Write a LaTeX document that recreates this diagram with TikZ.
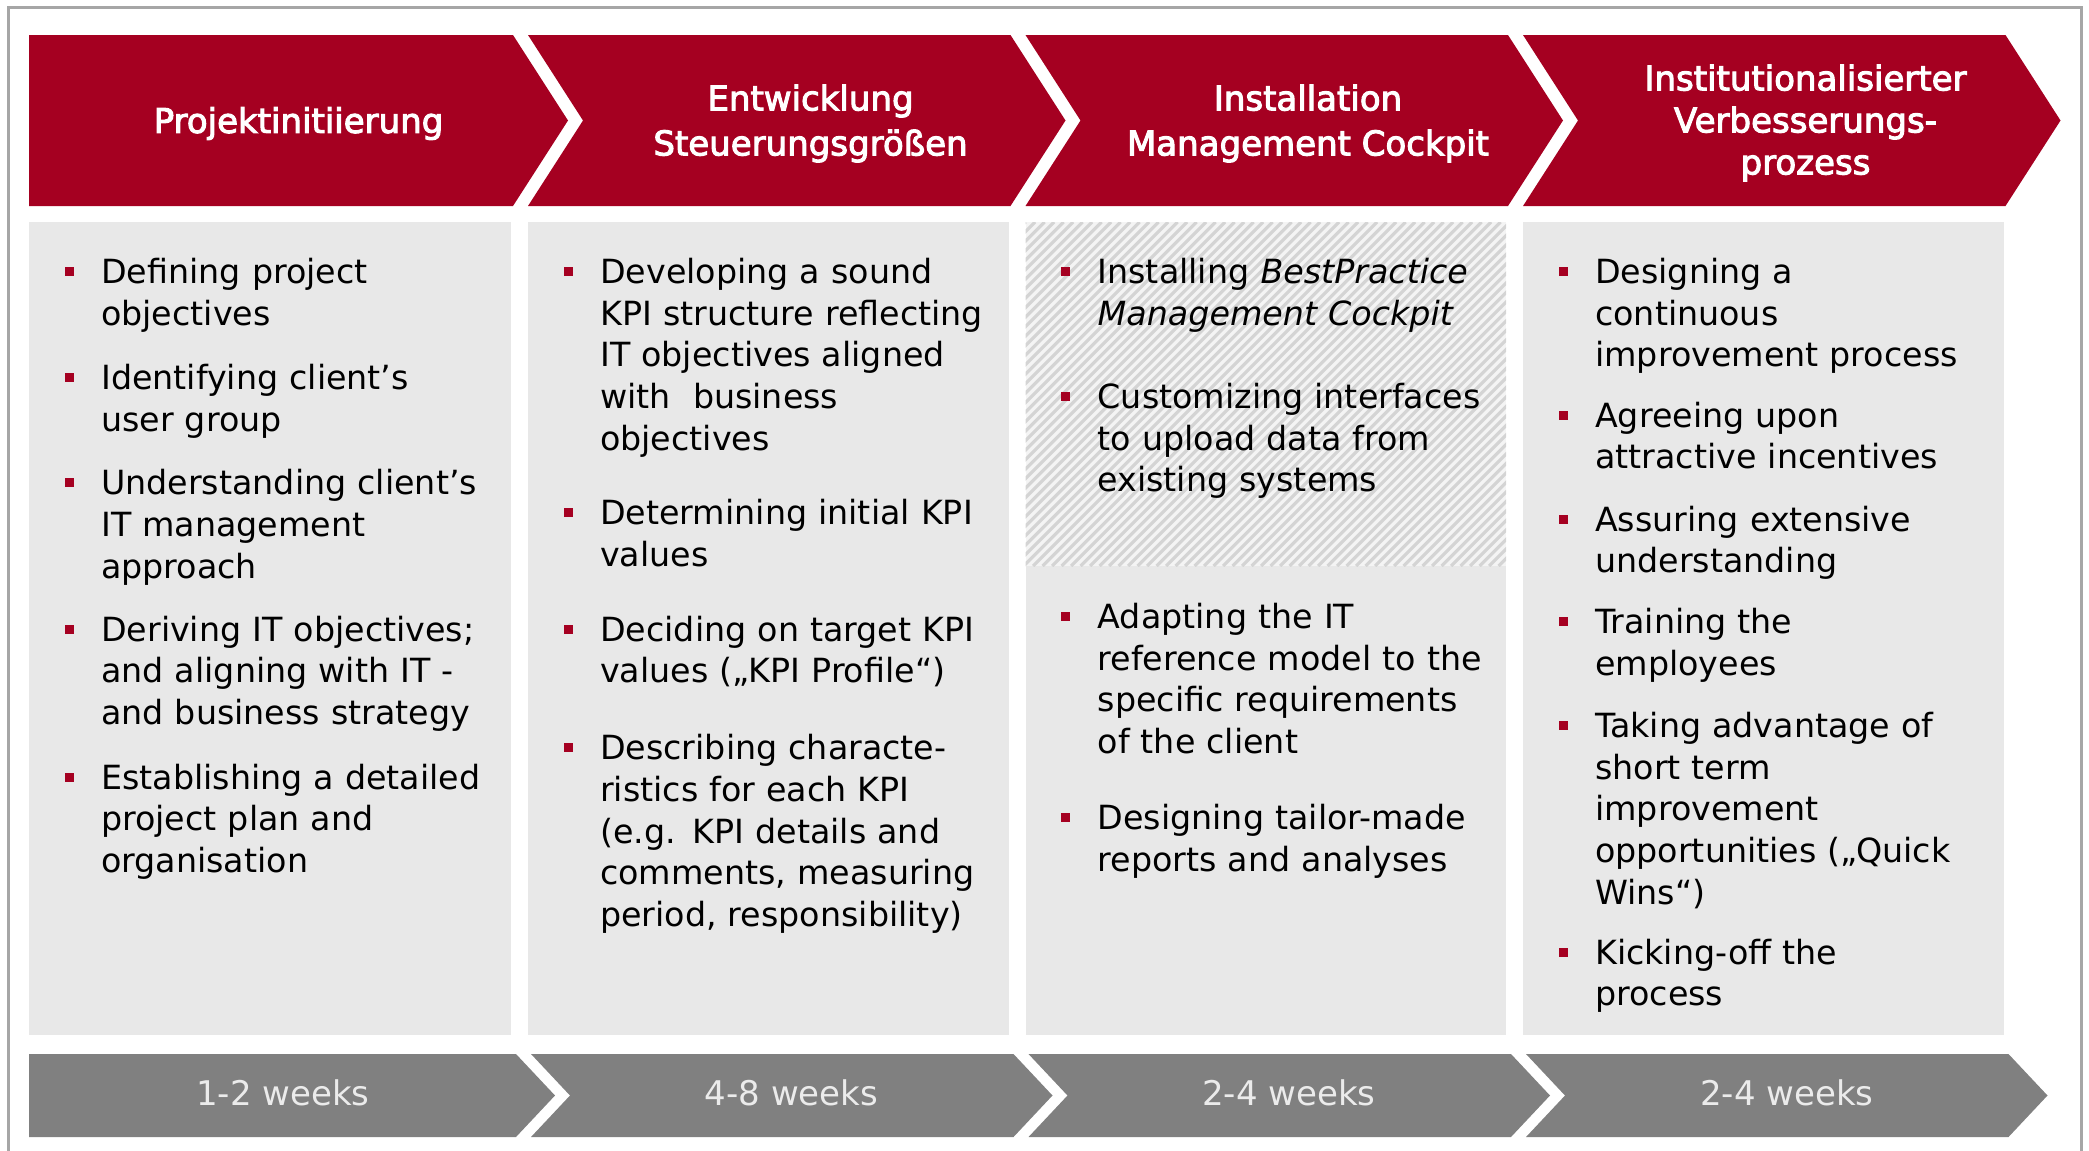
\documentclass[tikz,border=0pt]{standalone}
\usepackage{fontspec}
\setmainfont{DejaVu Sans}
\newfontfamily\headfont[FakeBold=3]{DejaVu Sans}
\definecolor{hred}{RGB}{165,0,33}
\definecolor{boxgray}{RGB}{232,232,232}
\definecolor{dgray}{RGB}{128,128,128}
\definecolor{framegray}{RGB}{166,166,166}
\definecolor{hatchbg}{RGB}{244,244,244}
\definecolor{hatchln}{RGB}{212,212,212}
\tikzset{
  head/.style={text=white, align=center, inner sep=0, font=\headfont\fontsize{34}{45}\selectfont},
  item/.style={anchor=base west, inner sep=0, text width=430pt, align=left, font=\fontsize{33.3}{41.7}\selectfont},
  sq/.style={fill=hred, minimum size=9pt, inner sep=0},
  weeks/.style={text=white!92!black, inner sep=0, font=\fontsize{34}{40}\selectfont}
}
\begin{document}
\begin{tikzpicture}[x=1pt,y=-1pt]
\useasboundingbox (0,0) rectangle (2089,1151);
\draw[framegray, line width=2.5pt] (8.5,1160) -- (8.5,7.5) -- (2081.5,7.5) -- (2081.5,1160);
\fill[hred] (29,35) -- (513,35) -- (568,120.5) -- (513,206) -- (29,206) -- cycle;
\fill[hred] (528,35) -- (1010.5,35) -- (1065.5,120.5) -- (1010.5,206) -- (528,206) -- (583,120.5) -- cycle;
\fill[hred] (1025.5,35) -- (1508,35) -- (1563,120.5) -- (1508,206) -- (1025.5,206) -- (1080.5,120.5) -- cycle;
\fill[hred] (1523,35) -- (2005.5,35) -- (2060.5,120.5) -- (2005.5,206) -- (1523,206) -- (1578,120.5) -- cycle;
\fill[boxgray] (29,222) rectangle (511,1035);
\fill[boxgray] (528,222) rectangle (1008.5,1035);
\fill[boxgray] (1025.5,222) rectangle (1506,1035);
\fill[boxgray] (1523,222) rectangle (2003.5,1035);
\begin{scope}
\clip (1025.5,222) rectangle (1506,566);
\fill[hatchbg] (1025.5,222) rectangle (1506,566);
\foreach \k in {0,...,88}
  \draw[hatchln, line width=3.2pt] (681.5+\k*9.5,566) -- ++(344,-344);
\end{scope}
\fill[dgray] (29,1054) -- (516,1054) -- (555,1095.5) -- (516,1137) -- (29,1137) -- cycle;
\fill[dgray] (531,1054) -- (1013.5,1054) -- (1052.5,1095.5) -- (1013.5,1137) -- (531,1137) -- (570,1095.5) -- cycle;
\fill[dgray] (1028.5,1054) -- (1511,1054) -- (1550,1095.5) -- (1511,1137) -- (1028.5,1137) -- (1067.5,1095.5) -- cycle;
\fill[dgray] (1526,1054) -- (2008.5,1054) -- (2047.5,1095.5) -- (2008.5,1137) -- (1526,1137) -- (1565,1095.5) -- cycle;
\node[head] (h1) at (298.5,123.5) {Projektinitiierung};
\node[head] (h2) at (810.5,123.5) {Entwicklung\\Steuerungsgrößen};
\node[head] (h3) at (1308,123.5) {Installation\\Management Cockpit};
\node[head, font=\headfont\fontsize{34}{42}\selectfont] (h4) at (1805.5,123) {Institutionalisierter\\Verbesserungs-\\prozess};
\node[item] (p1a) at (101,283.5) {Defining project\\objectives};
\node[item] (p1b) at (101,389.4) {Identifying client’s\\user group};
\node[item] (p1c) at (101,494.6) {Understanding client’s\\IT management\\approach};
\node[item] (p1d) at (101,641.2) {Deriving IT objectives;\\and aligning with IT -\\and business strategy};
\node[item] (p1e) at (101,789.1) {Establishing a detailed\\project plan and\\organisation};
\node[item] (p2a) at (600,283.5) {Developing a sound\\KPI structure reflecting\\IT objectives aligned\\with\ \ business\\objectives};
\node[item] (p2b) at (600,524.5) {Determining initial KPI\\values};
\node[item] (p2c) at (600,641.2) {Deciding on target KPI\\values („KPI Profile“)};
\node[item] (p2d) at (600,759.8) {Describing characte-\\ristics for each KPI\\(e.g. KPI details and\\comments, measuring\\period, responsibility)};
\node[item] (p3a) at (1097.5,283.5) {Installing \textit{BestPractice}\\\textit{Management Cockpit}};
\node[item] (p3b) at (1097.5,408.5) {Customizing interfaces\\to upload data from\\existing systems};
\node[item] (p3c) at (1097.5,628.5) {Adapting the IT\\reference model to the\\specific requirements\\of the client};
\node[item] (p3d) at (1097.5,829.5) {Designing tailor-made\\reports and analyses};
\node[item] (p4a) at (1595,283.5) {Designing a\\continuous\\improvement process};
\node[item] (p4b) at (1595,427) {Agreeing upon\\attractive incentives};
\node[item] (p4c) at (1595,531) {Assuring extensive\\understanding};
\node[item] (p4d) at (1595,633.5) {Training the\\employees};
\node[item] (p4e) at (1595,737.5) {Taking advantage of\\short term\\improvement\\opportunities („Quick\\Wins“)};
\node[item] (p4f) at (1595,964) {Kicking-off the\\process};
\node[sq] (s1a) at ([shift={(-32,-12)}]p1a.base west) {};
\node[sq] (s1b) at ([shift={(-32,-12)}]p1b.base west) {};
\node[sq] (s1c) at ([shift={(-32,-12)}]p1c.base west) {};
\node[sq] (s1d) at ([shift={(-32,-12)}]p1d.base west) {};
\node[sq] (s1e) at ([shift={(-32,-12)}]p1e.base west) {};
\node[sq] (s2a) at ([shift={(-32,-12)}]p2a.base west) {};
\node[sq] (s2b) at ([shift={(-32,-12)}]p2b.base west) {};
\node[sq] (s2c) at ([shift={(-32,-12)}]p2c.base west) {};
\node[sq] (s2d) at ([shift={(-32,-12)}]p2d.base west) {};
\node[sq] (s3a) at ([shift={(-32,-12)}]p3a.base west) {};
\node[sq] (s3b) at ([shift={(-32,-12)}]p3b.base west) {};
\node[sq] (s3c) at ([shift={(-32,-12)}]p3c.base west) {};
\node[sq] (s3d) at ([shift={(-32,-12)}]p3d.base west) {};
\node[sq] (s4a) at ([shift={(-32,-12)}]p4a.base west) {};
\node[sq] (s4b) at ([shift={(-32,-12)}]p4b.base west) {};
\node[sq] (s4c) at ([shift={(-32,-12)}]p4c.base west) {};
\node[sq] (s4d) at ([shift={(-32,-12)}]p4d.base west) {};
\node[sq] (s4e) at ([shift={(-32,-12)}]p4e.base west) {};
\node[sq] (s4f) at ([shift={(-32,-12)}]p4f.base west) {};
\node[weeks] (w1) at (283,1092.5) {1-2 weeks};
\node[weeks] (w2) at (791.5,1092.5) {4-8 weeks};
\node[weeks] (w3) at (1289,1092.5) {2-4 weeks};
\node[weeks] (w4) at (1787,1092.5) {2-4 weeks};
\end{tikzpicture}
\end{document}
